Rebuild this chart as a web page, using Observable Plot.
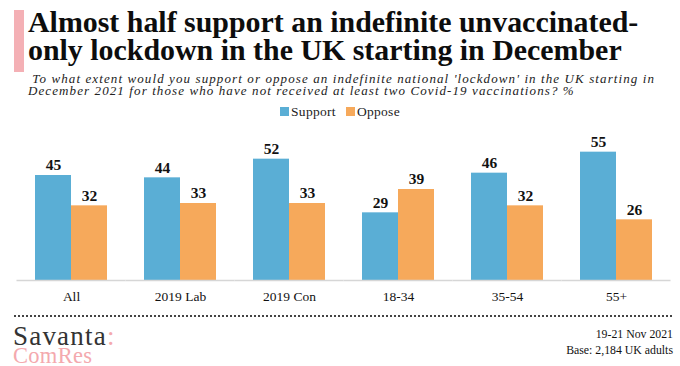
<!DOCTYPE html>
<html>
<head>
<meta charset="utf-8">
<script src="https://cdn.jsdelivr.net/npm/d3@7"></script>
<script src="https://cdn.jsdelivr.net/npm/@observablehq/plot@0.6"></script>
<style>
  body { margin: 0; background: #fff; }
  #wrap { position: relative; width: 680px; height: 366px; overflow: hidden; font-family: "Liberation Serif", serif; color: #111; }
  #bar { position: absolute; left: 14px; top: 10px; width: 10px; height: 62px; background: #f4b0b5; }
  #title { position: absolute; left: 28px; top: 8px; font-size: 29.9px; line-height: 28px; font-weight: bold; white-space: nowrap; color: #0d0d0d; }
  #subtitle { position: absolute; left: 28px; top: 72.5px; font-size: 13px; line-height: 12.5px; letter-spacing: 1.1px; font-style: italic; white-space: nowrap; color: #222; }
  #legend { position: absolute; left: 0; width: 680px; top: 104px; text-align: center; font-size: 13.5px; line-height: 16px; letter-spacing: 0.3px; color: #222; }
  #legend span.sw { display: inline-block; width: 9px; height: 9px; margin-right: 2px; vertical-align: 0px; }
  #legend span.it { margin: 0 5px; }
  #chart { position: absolute; left: 0; top: 120px; }
  #dots { position: absolute; left: 14px; right: 8px; top: 315px; border-top: 2px dotted #444; }
  #logo1 { position: absolute; left: 13px; top: 325px; font-size: 27px; line-height: 22px; letter-spacing: 1.2px; color: #333; }
  #logo1 b { font-weight: normal; color: #f4a9ae; }
  #logo2 { position: absolute; left: 13px; top: 347.5px; font-size: 22.5px; line-height: 16px; letter-spacing: 0.3px; color: #f4a9ae; }
  #right { position: absolute; right: 7px; top: 326px; text-align: right; font-size: 11.8px; line-height: 16px; color: #111; }
</style>
</head>
<body>
<div id="wrap">
  <div id="bar"></div>
  <div id="title">Almost half support an indefinite unvaccinated-<br>only lockdown in the UK starting in December</div>
  <div id="subtitle">&nbsp;To what extent would you support or oppose an indefinite national 'lockdown' in the UK starting in<br>December 2021 for those who have not received at least two Covid-19 vaccinations? %</div>
  <div id="legend"></div>
  <div id="chart"></div>
  <div id="dots"></div>
  <div id="logo1">Savanta<b>:</b></div>
  <div id="logo2">ComRes</div>
  <div id="right">19-21 Nov 2021<br>Base: 2,184 UK adults</div>
</div>
<script>
const categories = ["All", "2019 Lab", "2019 Con", "18-34", "35-54", "55+"];
const series = ["Support", "Oppose"];
const support = [45, 44, 52, 29, 46, 55];
const oppose = [32, 33, 33, 39, 32, 26];
const colors = ["#5aaed5", "#f6a95b"];

const data = categories.flatMap((c, i) => [
  {cat: c, series: "Support", value: support[i]},
  {cat: c, series: "Oppose", value: oppose[i]}
]);
const baseline = categories.map(c => ({cat: c, v: 0}));

// legend
const leg = document.getElementById("legend");
series.forEach((s, i) => {
  const it = document.createElement("span");
  it.className = "it";
  it.innerHTML = `<span class="sw" style="background:${colors[i]}"></span>${s}`;
  leg.appendChild(it);
});

const chart = Plot.plot({
  width: 680,
  height: 185,
  marginLeft: 16,
  marginRight: 10,
  marginTop: 20,
  marginBottom: 25,
  style: {fontFamily: "'Liberation Serif', serif", fontSize: "13.5px", color: "#111", background: "transparent", overflow: "visible"},
  fx: {domain: categories, paddingInner: 0.34, paddingOuter: 0.17, label: null, axis: "bottom", tickSize: 0, tickPadding: 11},
  x: {domain: series, padding: 0, axis: null},
  y: {domain: [0, 60], axis: null},
  color: {domain: series, range: colors},
  marks: [
    Plot.barY(data, {fx: "cat", x: "series", y: "value", fill: "series"}),
    Plot.ruleY(baseline, {fx: "cat", y: "v", stroke: "#d6d6d6", strokeWidth: 1.5, insetLeft: -18.5, insetRight: -18.5}),
    Plot.text(data, {fx: "cat", x: "series", y: "value", text: d => String(d.value), dy: -10, fontWeight: "bold", fontSize: 15.5, fill: "#111"})
  ]
});
document.getElementById("chart").appendChild(chart);
</script>
</body>
</html>
